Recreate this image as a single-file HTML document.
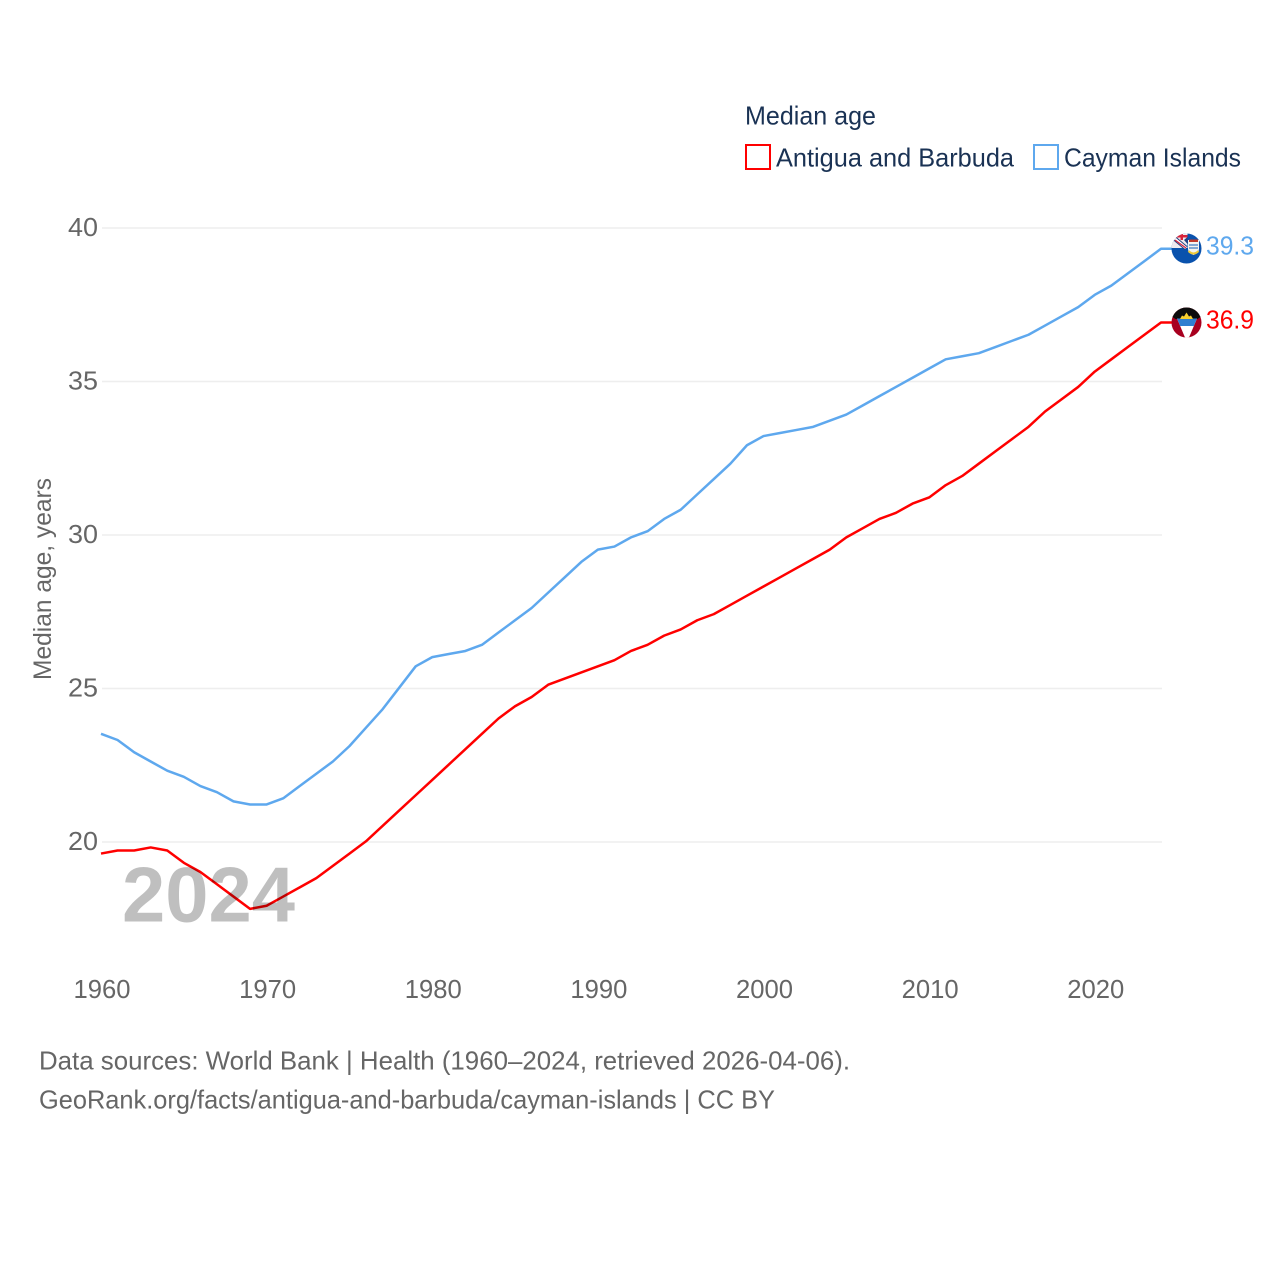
<!DOCTYPE html>
<html lang="en">
<head>
<meta charset="utf-8">
<title>Median age</title>
<style>
html,body{margin:0;padding:0;background:#fff}
svg{display:block}
text{font-family:"Liberation Sans",sans-serif}
</style>
</head>
<body>
<svg id="chart" width="1280" height="1280" viewBox="0 0 1280 1280" xmlns="http://www.w3.org/2000/svg">
  <rect width="1280" height="1280" fill="#fff"/>
  <defs>
    <clipPath id="clip-ky"><circle cx="1186.5" cy="248.500" r="15"/></clipPath>
    <clipPath id="clip-ag"><circle cx="1186.5" cy="322.500" r="15"/></clipPath>
  </defs>
  <g id="grid"></g>
  <g id="yticks"></g>
  <g id="xticks"></g>
  <text transform="translate(51,579) rotate(-90)" text-anchor="middle" font-size="25" fill="#666" textLength="202" lengthAdjust="spacingAndGlyphs">Median age, years</text>
  <g id="series" transform="translate(0,-0.7)"></g>
  <text x="122" y="921.500" font-size="78" font-weight="700" fill="#000" fill-opacity="0.25" textLength="173" lengthAdjust="spacingAndGlyphs">2024</text>

  <g clip-path="url(#clip-ky)">
    <rect x="1171" y="233" width="31" height="31" fill="#0a52ad"/>
    <rect x="1171" y="233" width="16.500" height="15" fill="#efeaee"/>
    <path d="M1174 238L1186 248" stroke="#24407f" stroke-width="4.500"/>
    <path d="M1174 238L1186 248" stroke="#fff" stroke-width="2.500"/>
    <path d="M1175 240L1186 248" stroke="#d8203a" stroke-width="1.200"/>
    <rect x="1171" y="235" width="16.500" height="2.500" fill="#d8233a"/>
    <rect x="1180.500" y="233" width="2.500" height="7" fill="#d8233a"/>
    <path d="M1184 240L1187.500 237V244Z" fill="#24407f"/>
    <path d="M1188 240h11v9q0 4-5.500 6q-5.500-2-5.500-6Z" fill="#f4f4f0"/>
    <rect x="1189" y="239.500" width="9" height="2.500" fill="#c0392b"/>
    <path d="M1189 245h9M1189 248h9" stroke="#3f7cc4" stroke-width="1.300"/>
    <path d="M1188.500 251q5 5 10 0" stroke="#eec93a" stroke-width="2" fill="none"/>
  </g>
  <g clip-path="url(#clip-ag)">
    <rect x="1171" y="307" width="31" height="31" fill="#a8001f"/>
    <path d="M1171 307H1202V316L1197.500 319H1175.500L1171 316Z" fill="#0c0c0c"/>
    <path d="M1177 318.500H1197L1189 337.500H1185Z" fill="#fff"/>
    <path d="M1177 318.500H1197L1193.800 326H1180.200Z" fill="#2f7fd0"/>
    <path d="M1180 319L1182 315.500L1184 316.500L1186.500 312.500L1189 316.500L1191 315.500L1193 319Z" fill="#f6cf2f"/>
  </g>

  <text x="1206" y="254.500" font-size="26" fill="#5ea8ee" textLength="48" lengthAdjust="spacingAndGlyphs">39.3</text>
  <text x="1206" y="328.500" font-size="26" fill="#ff0000" textLength="48" lengthAdjust="spacingAndGlyphs">36.9</text>

  <g>
    <text x="745" y="124.500" font-size="26" fill="#1a3254" textLength="131" lengthAdjust="spacingAndGlyphs">Median age</text>
    <g>
      <rect x="746" y="145" width="24" height="24" fill="none" stroke="#ff0000" stroke-width="2"/>
      <text x="776" y="166.500" font-size="26" fill="#1a3254" textLength="238" lengthAdjust="spacingAndGlyphs">Antigua and Barbuda</text>
    </g>
    <g>
      <rect x="1034" y="145" width="24" height="24" fill="none" stroke="#5ea8ee" stroke-width="2"/>
      <text x="1064" y="166.500" font-size="26" fill="#1a3254" textLength="177" lengthAdjust="spacingAndGlyphs">Cayman Islands</text>
    </g>
  </g>

  <text x="39" y="1069.500" font-size="26" fill="#666" textLength="811" lengthAdjust="spacingAndGlyphs">Data sources: World Bank | Health (1960–2024, retrieved 2026-04-06).</text>
  <text x="39" y="1108.500" font-size="26" fill="#666" textLength="736" lengthAdjust="spacingAndGlyphs">GeoRank.org/facts/antigua-and-barbuda/cayman-islands | CC BY</text>
</svg>
<script>
const years = [1960,1961,1962,1963,1964,1965,1966,1967,1968,1969,1970,1971,1972,1973,1974,1975,1976,1977,1978,1979,1980,1981,1982,1983,1984,1985,1986,1987,1988,1989,1990,1991,1992,1993,1994,1995,1996,1997,1998,1999,2000,2001,2002,2003,2004,2005,2006,2007,2008,2009,2010,2011,2012,2013,2014,2015,2016,2017,2018,2019,2020,2021,2022,2023,2024];
const antiguaValues = [19.6,19.7,19.7,19.8,19.7,19.3,19.0,18.6,18.2,17.8,17.9,18.2,18.5,18.8,19.2,19.6,20.0,20.5,21.0,21.5,22.0,22.5,23.0,23.5,24.0,24.4,24.7,25.1,25.3,25.5,25.7,25.9,26.2,26.4,26.7,26.9,27.2,27.4,27.7,28.0,28.3,28.6,28.9,29.2,29.5,29.9,30.2,30.5,30.7,31.0,31.2,31.6,31.9,32.3,32.7,33.1,33.5,34.0,34.4,34.8,35.3,35.7,36.1,36.5,36.9];
const caymanValues = [23.5,23.3,22.9,22.6,22.3,22.1,21.8,21.6,21.3,21.2,21.2,21.4,21.8,22.2,22.6,23.1,23.7,24.3,25.0,25.7,26.0,26.1,26.2,26.4,26.8,27.2,27.6,28.1,28.6,29.1,29.5,29.6,29.9,30.1,30.5,30.8,31.3,31.8,32.3,32.9,33.2,33.3,33.4,33.5,33.7,33.9,34.2,34.5,34.8,35.1,35.4,35.7,35.8,35.9,36.1,36.3,36.5,36.8,37.1,37.4,37.8,38.1,38.5,38.9,39.3];
const yTickValues = [20,25,30,35,40];
const xTickValues = [1960,1970,1980,1990,2000,2010,2020];

const NS = 'http://www.w3.org/2000/svg';
const xScale = y => 101 + (y - 1960) * (1161 - 101) / 64;
const yScale = v => 842 - (v - 20) * (842 - 228) / 20;

const gridGroup = document.getElementById('grid');
const yTickGroup = document.getElementById('yticks');
const xTickGroup = document.getElementById('xticks');
const seriesGroup = document.getElementById('series');

yTickValues.forEach(v => {
  const line = document.createElementNS(NS, 'line');
  
  
  line.setAttribute('x1', 102);
  line.setAttribute('x2', 1162);
  line.setAttribute('y1', yScale(v));
  line.setAttribute('y2', yScale(v));
  line.setAttribute('stroke', '#eeeeee');
  line.setAttribute('stroke-width', 1.5);
  gridGroup.appendChild(line);

  const label = document.createElementNS(NS, 'text');
  
  
  label.setAttribute('x', 98);
  label.setAttribute('y', yScale(v) + 8);
  label.setAttribute('text-anchor', 'end');
  label.setAttribute('font-size', 26);
  label.setAttribute('fill', '#666');
  label.setAttribute('textLength', 30);
  label.setAttribute('lengthAdjust', 'spacingAndGlyphs');
  label.textContent = v;
  yTickGroup.appendChild(label);
});

xTickValues.forEach(y => {
  const label = document.createElementNS(NS, 'text');
  
  
  label.setAttribute('x', xScale(y) + 1);
  label.setAttribute('y', 998);
  label.setAttribute('text-anchor', 'middle');
  label.setAttribute('font-size', 26);
  label.setAttribute('fill', '#666');
  label.setAttribute('textLength', 57);
  label.setAttribute('lengthAdjust', 'spacingAndGlyphs');
  label.textContent = y;
  xTickGroup.appendChild(label);
});

function drawSeries(values, color, name) {
  const pts = values.map((v, i) => xScale(years[i]).toFixed(2) + ',' + yScale(v).toFixed(2));
  pts.push('1172,' + yScale(values[values.length - 1]).toFixed(2));
  const line = document.createElementNS(NS, 'polyline');
  
  
  line.setAttribute('points', pts.join(' '));
  line.setAttribute('fill', 'none');
  line.setAttribute('stroke', color);
  line.setAttribute('stroke-width', 2.5);
  line.setAttribute('stroke-linejoin', 'round');
  seriesGroup.appendChild(line);
}
drawSeries(caymanValues, '#5ea8ee', 'line-cayman-islands');
drawSeries(antiguaValues, '#ff0000', 'line-antigua-and-barbuda');
</script>
</body>
</html>
